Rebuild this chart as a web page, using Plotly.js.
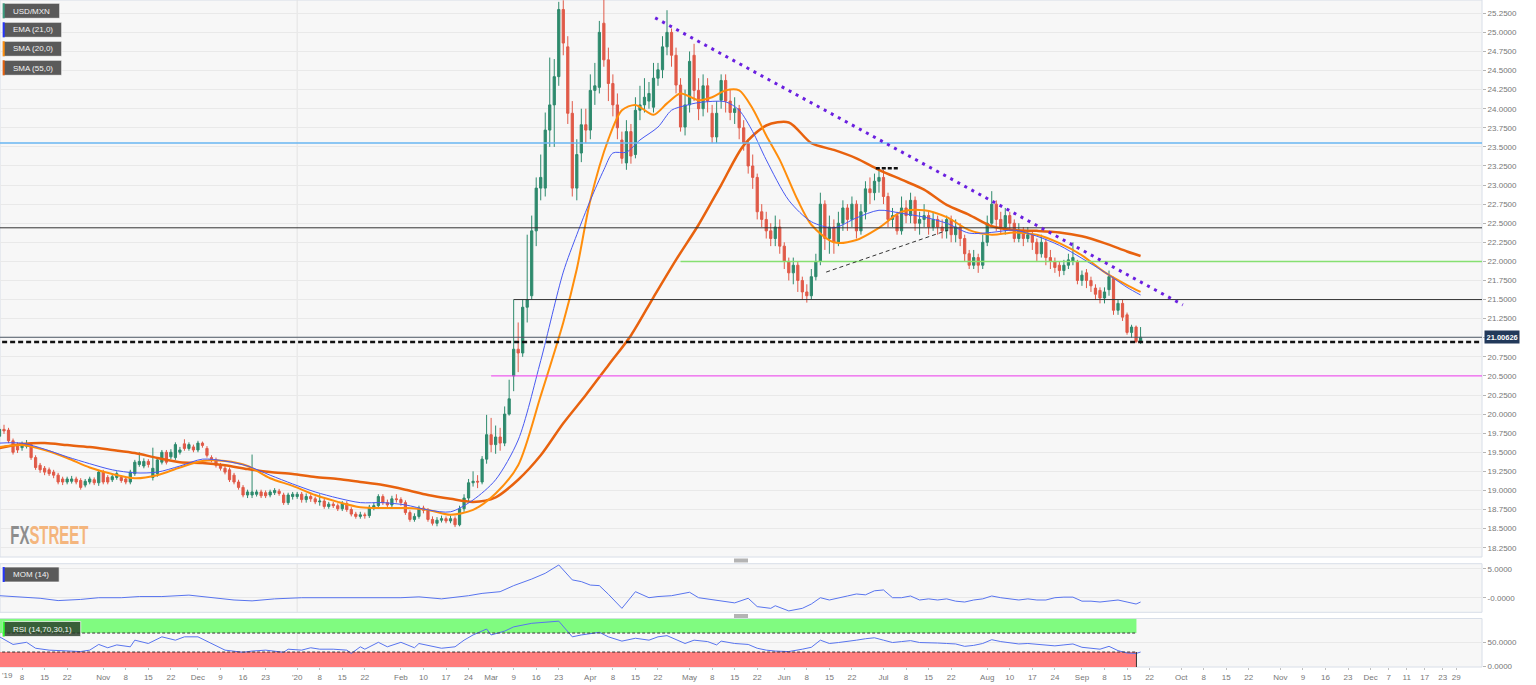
<!DOCTYPE html>
<html><head><meta charset="utf-8">
<script src="https://cdn.plot.ly/plotly-3.0.1.min.js"></script>
<style>html,body{margin:0;padding:0;background:#fff;}#chart{width:1536px;height:685px;}</style>
</head><body><div id="chart"></div>
<script>
// ---------- DATA ----------
const startDate = '2019-10-01';
const holidays = ['2020-11-26', '2020-12-25'];

const open = [
19.71,19.80,19.79,19.65,19.60,19.56,19.58,19.60,19.43,19.33,
19.29,19.27,19.24,19.20,19.15,19.11,19.12,19.15,19.13,19.07,
19.11,19.14,19.10,19.24,19.17,19.14,19.17,19.17,19.15,19.11,
19.22,19.34,19.32,19.38,19.17,19.22,19.37,19.50,19.44,19.43,
19.50,19.61,19.55,19.57,19.53,19.62,19.55,19.43,19.40,19.33,
19.29,19.27,19.20,19.11,19.04,18.94,18.94,18.95,18.98,18.97,
18.94,18.97,18.99,18.94,18.84,18.92,18.92,18.95,18.88,18.92,
18.89,18.85,18.86,18.79,18.82,18.80,18.76,18.83,18.75,18.69,
18.66,18.68,18.67,18.78,18.80,18.92,18.84,18.81,18.89,18.88,
18.84,18.71,18.62,18.66,18.77,18.74,18.62,18.57,18.61,18.63,
18.60,18.63,18.55,18.76,18.90,19.10,19.12,19.11,19.41,19.73,
19.60,19.70,19.62,20.00,20.50,20.85,20.80,21.40,21.55,22.40,
22.96,22.96,23.72,24.05,24.42,25.30,24.81,23.94,22.96,23.42,
23.79,23.72,24.24,24.28,25.12,24.64,24.33,24.05,23.59,23.29,
23.70,23.40,23.98,24.05,24.10,24.02,24.40,24.51,24.81,25.00,
24.70,24.31,23.76,24.05,24.70,24.24,24.00,24.30,23.94,23.63,
24.11,24.37,24.10,23.95,24.00,23.75,23.55,23.25,23.10,22.65,
22.55,22.40,22.30,22.45,22.20,22.00,21.85,21.95,21.75,21.60,
21.55,21.80,22.00,22.75,22.30,22.45,22.25,22.50,22.70,22.55,
22.75,22.40,22.65,22.95,22.90,23.05,23.10,22.85,22.55,22.60,
22.40,22.70,22.60,22.80,22.50,22.55,22.60,22.45,22.55,22.45,
22.40,22.55,22.35,22.45,22.30,22.10,21.95,22.05,21.95,22.25,
22.50,22.75,22.55,22.45,22.60,22.50,22.30,22.40,22.30,22.35,
22.25,22.10,22.25,22.05,22.00,21.95,21.88,21.95,22.00,22.00,
21.75,21.85,21.75,21.65,21.62,21.52,21.63,21.78,21.36,21.45,
21.30,21.07,21.14,20.95];

const high = [
19.84,19.86,19.82,19.68,19.63,19.64,19.66,19.63,19.46,19.36,
19.32,19.30,19.27,19.23,19.18,19.18,19.19,19.18,19.16,19.15,
19.18,19.17,19.27,19.27,19.20,19.21,19.25,19.20,19.18,19.27,
19.40,19.50,19.42,19.41,19.56,19.43,19.53,19.53,19.54,19.63,
19.57,19.67,19.63,19.60,19.65,19.64,19.58,19.46,19.43,19.36,
19.32,19.30,19.23,19.14,19.07,19.01,19.47,19.01,19.01,19.00,
19.01,19.03,19.02,18.97,18.97,18.98,18.98,18.98,18.96,18.95,
18.92,18.95,18.89,18.85,18.85,18.83,18.86,18.86,18.78,18.72,
18.72,18.71,18.81,18.84,18.95,18.95,18.88,18.93,18.95,18.91,
18.87,18.74,18.70,18.80,18.80,18.77,18.66,18.65,18.67,18.66,
18.67,18.66,18.80,18.95,19.15,19.25,19.20,19.45,19.99,19.95,
19.85,19.82,20.10,20.45,21.50,21.20,21.50,22.35,22.60,23.10,
23.40,23.95,24.67,24.65,25.40,25.42,24.95,24.10,23.60,24.00,
24.00,24.45,24.60,25.15,25.45,24.80,24.45,24.20,23.70,23.85,
23.80,24.15,24.30,24.40,24.35,24.60,24.60,24.95,25.29,25.05,
24.80,24.40,24.25,24.75,24.85,24.40,24.45,24.40,24.05,24.10,
24.45,24.45,24.25,24.15,24.05,23.85,23.60,23.40,23.15,22.75,
22.65,22.50,22.60,22.55,22.25,22.05,22.05,22.00,21.80,21.70,
21.90,22.10,22.90,22.80,22.60,22.55,22.65,22.80,22.75,22.85,
22.80,22.75,23.05,23.10,23.15,23.22,23.20,22.90,22.70,22.65,
22.85,22.80,22.90,22.85,22.65,22.75,22.65,22.65,22.60,22.55,
22.60,22.60,22.55,22.50,22.35,22.15,22.15,22.10,22.35,22.60,
22.92,22.80,22.65,22.70,22.65,22.55,22.50,22.45,22.45,22.40,
22.30,22.35,22.30,22.15,22.05,22.00,22.02,22.10,22.25,22.02,
21.88,21.90,21.80,21.70,21.66,21.66,21.88,21.80,21.50,21.50,
21.33,21.17,21.16,21.14];

const low = [
19.68,19.74,19.62,19.47,19.49,19.52,19.55,19.40,19.27,19.23,
19.20,19.19,19.16,19.08,19.07,19.08,19.09,19.08,19.01,19.04,
19.08,19.07,19.06,19.08,19.08,19.11,19.14,19.10,19.08,19.08,
19.19,19.31,19.29,19.30,19.13,19.18,19.34,19.34,19.41,19.40,
19.47,19.52,19.52,19.50,19.50,19.56,19.43,19.37,19.30,19.26,
19.21,19.11,19.08,19.01,18.91,18.90,18.90,18.92,18.90,18.90,
18.91,18.94,18.93,18.81,18.81,18.88,18.89,18.84,18.84,18.85,
18.82,18.80,18.76,18.76,18.77,18.73,18.73,18.72,18.66,18.63,
18.63,18.63,18.64,18.74,18.77,18.81,18.78,18.77,18.84,18.80,
18.68,18.59,18.59,18.63,18.70,18.59,18.54,18.53,18.58,18.57,
18.57,18.52,18.53,18.72,18.86,19.05,19.03,19.08,19.35,19.50,
19.48,19.52,19.58,19.98,20.30,20.55,20.75,21.20,21.50,22.20,
22.80,22.85,23.50,23.50,24.30,24.70,23.80,22.85,22.80,23.30,
23.55,23.60,24.05,24.20,24.55,24.10,23.90,23.60,23.28,23.20,
23.28,23.35,23.85,23.95,24.00,23.95,24.30,24.40,24.70,24.55,
24.20,23.70,23.65,23.95,24.10,23.85,23.90,23.95,23.55,23.55,
24.00,23.95,23.85,23.80,23.60,23.45,23.15,22.95,22.55,22.45,
22.30,22.20,22.20,22.10,21.90,21.75,21.70,21.60,21.50,21.46,
21.50,21.75,21.95,22.15,22.10,22.10,22.20,22.40,22.40,22.45,
22.30,22.35,22.55,22.75,22.80,22.90,22.75,22.45,22.45,22.35,
22.35,22.50,22.50,22.40,22.35,22.45,22.35,22.40,22.35,22.30,
22.30,22.25,22.25,22.20,22.00,21.90,21.90,21.85,21.90,22.20,
22.45,22.40,22.35,22.35,22.40,22.25,22.25,22.20,22.25,22.15,
22.00,22.05,21.95,21.90,21.85,21.80,21.82,21.90,21.95,21.70,
21.68,21.65,21.60,21.50,21.45,21.45,21.55,21.30,21.30,21.22,
21.04,21.00,20.93,20.92];

const close = [
19.80,19.78,19.65,19.50,19.53,19.60,19.61,19.43,19.30,19.27,
19.24,19.22,19.20,19.11,19.11,19.15,19.15,19.11,19.04,19.12,
19.15,19.10,19.24,19.11,19.11,19.18,19.22,19.13,19.11,19.24,
19.37,19.38,19.38,19.34,19.29,19.40,19.50,19.37,19.50,19.60,
19.53,19.55,19.60,19.53,19.62,19.59,19.46,19.40,19.33,19.29,
19.24,19.14,19.11,19.04,18.94,18.98,18.98,18.98,18.93,18.93,
18.98,19.00,18.96,18.84,18.94,18.95,18.95,18.88,18.92,18.89,
18.85,18.86,18.79,18.82,18.80,18.76,18.83,18.75,18.69,18.66,
18.68,18.67,18.78,18.80,18.92,18.84,18.81,18.89,18.88,18.84,
18.71,18.62,18.66,18.77,18.74,18.62,18.57,18.61,18.63,18.60,
18.63,18.55,18.76,18.90,19.10,19.12,19.11,19.41,19.73,19.60,
19.70,19.62,20.00,20.20,20.85,20.80,21.40,21.50,22.40,22.96,
23.10,23.72,24.05,24.42,25.30,24.86,23.94,22.96,23.40,23.79,
23.72,24.24,24.30,25.00,24.64,24.33,24.05,23.75,23.35,23.70,
23.38,23.98,24.05,24.15,24.20,24.40,24.51,24.81,25.00,24.70,
24.31,23.76,24.05,24.62,24.24,24.00,24.30,24.10,23.63,23.94,
24.37,24.10,23.95,24.00,23.75,23.55,23.25,23.10,22.65,22.55,
22.40,22.30,22.45,22.20,22.00,21.85,21.95,21.75,21.60,21.55,
21.80,22.00,22.75,22.30,22.45,22.25,22.50,22.70,22.55,22.75,
22.40,22.65,22.95,22.90,23.05,23.10,22.85,22.55,22.60,22.40,
22.70,22.60,22.80,22.50,22.55,22.60,22.45,22.55,22.45,22.40,
22.55,22.35,22.45,22.30,22.10,21.95,22.05,21.95,22.25,22.50,
22.75,22.55,22.45,22.60,22.50,22.30,22.40,22.30,22.35,22.25,
22.10,22.25,22.05,22.00,21.92,21.88,21.95,22.02,22.05,21.75,
21.82,21.75,21.68,21.57,21.52,21.60,21.80,21.36,21.45,21.27,
21.07,21.14,20.95,21.006];

// Indicator lines (trading-day number, value)
const ema21Day = [0,5,10,15,20,25,30,35,40,45,50,55,60,65,70,75,80,85,90,95,100,105,110,115,120,125,128,131,134,136,139,142,146,149,152,155,161,164,167,170,175,180,185,190,195,200,205,210,215,220,225,230,235,240,245,250,253];
const ema21Val = [19.62,19.62,19.54,19.44,19.35,19.27,19.23,19.24,19.32,19.41,19.385,19.32,19.20,19.085,18.98,18.90,18.84,18.84,18.81,18.745,18.72,18.875,19.14,19.66,20.70,21.86,22.35,22.80,23.20,23.42,23.43,23.59,23.76,23.98,24.04,24.08,24.09,23.98,23.70,23.33,22.80,22.52,22.44,22.57,22.67,22.63,22.58,22.50,22.37,22.38,22.41,22.33,22.21,22.04,21.86,21.66,21.56];

const sma20Day = [0,5,10,15,20,25,30,35,40,45,50,55,60,65,70,75,80,85,90,95,100,105,110,115,120,125,128,131,135,138,141,145,148,151,155,158,161,164,167,170,173,177,180,185,190,195,200,205,210,215,220,225,230,235,240,245,250,253];
const sma20Val = [19.568,19.594,19.53,19.425,19.30,19.215,19.16,19.20,19.30,19.385,19.385,19.32,19.16,19.06,18.94,18.85,18.78,18.77,18.77,18.745,18.68,18.745,18.96,19.33,20.24,21.20,21.90,22.80,23.60,23.98,24.05,23.92,24.07,24.20,24.11,24.15,24.24,24.24,24.00,23.65,23.33,22.80,22.48,22.25,22.28,22.44,22.65,22.67,22.58,22.41,22.35,22.38,22.35,22.24,22.08,21.86,21.69,21.60];

const sma55Day = [0,5,10,15,20,25,30,35,40,45,50,55,60,65,70,75,80,85,90,95,100,105,110,115,120,125,130,135,140,145,150,155,160,165,170,175,180,185,190,195,200,205,210,215,220,225,230,235,240,245,250,253];
const sma55Val = [19.555,19.607,19.62,19.594,19.568,19.53,19.49,19.425,19.37,19.36,19.33,19.28,19.24,19.215,19.175,19.15,19.11,19.07,19.01,18.94,18.89,18.85,18.91,19.14,19.46,19.88,20.25,20.64,21.03,21.53,22.02,22.48,23.00,23.52,23.78,23.82,23.55,23.46,23.35,23.20,23.07,22.94,22.74,22.61,22.46,22.41,22.40,22.38,22.33,22.24,22.13,22.07];

const momDay = [0,4,9,13,18,22,27,31,36,42,47,52,56,61,67,71,76,80,84,89,93,98,104,107,111,114,118,121,124,127,129,131,133,135,138,141,144,146,149,153,155,159,163,166,168,171,172,175,178,180,182,184,186,188,190,192,194,196,198,200,202,204,206,208,210,212,214,216,218,220,222,224,226,228,230,232,234,236,238,240,242,244,246,248,250,252,253];
const momVal = [0.35,0.17,-0.1,-0.5,-0.3,0,0,0.2,0.2,0.45,0,-0.4,-0.55,-0.2,0,0,-0.1,-0.1,0,0,0.15,-0.2,0.35,0.75,1.05,2.1,3.25,4.25,5.7,3.1,2.8,2.2,2.1,0.6,-1.85,1.05,0,0.2,0.35,0.95,0,-0.4,-0.9,-0.1,-1.55,-1.85,-1.4,-2.3,-1.85,-1.1,0,-0.4,0,0.3,0.65,0.5,1.2,1.35,0,0,0.3,-0.4,-0.2,-0.4,-0.2,-0.6,-0.75,-0.4,-0.2,0.3,0,-0.2,-0.4,-0.2,-0.4,-0.4,0,0.1,0.1,-0.6,-0.6,-0.75,-0.6,-0.4,-0.75,-1.1,-0.75];

const rsiDay = [0,2,3,6,8,11,15,18,20,22,24,26,29,30,33,34,36,39,41,44,47,50,54,56,59,63,64,67,69,71,74,77,78,80,81,84,86,89,92,93,98,101,103,105,108,109,112,114,118,124,127,129,133,135,138,141,144,146,148,152,154,157,159,160,163,166,168,170,172,175,178,180,182,184,186,188,190,192,194,196,198,200,202,204,206,208,210,212,214,216,218,220,222,224,226,228,230,232,234,236,238,240,242,244,246,248,250,252,253];
const rsiVal = [62,50.5,46,50.5,38,34,32,31,34,46,39,45,41,55,48,53,62,55,62,62,48,34,29.5,32,34,29.5,36,34,39,36,36,34,27,41,36,50.5,41,50.5,39,48,38,41,55,66,78.5,66,74,83,90.5,95,62,66,71.5,62,53,59,55,62,64.5,48,55,52,45,53,48,46,38,34,32,31,36,40,55,48,50,52,55,58,60,55,50,52,54,50,50,49,48,47,42,44,48,56,52,50,47,48,46,44,43,45,47,40,38,36,42,33,28,27,30];

const priceTicks = [18.25,18.5,18.75,19,19.25,19.5,19.75,20,20.25,20.5,20.75,21,21.25,21.5,21.75,22,22.25,22.5,22.75,23,23.25,23.5,23.75,24,24.25,24.5,24.75,25,25.25];
const tickDates = ['2019-10-08','2019-10-15','2019-10-22','2019-11-01','2019-11-08','2019-11-15','2019-11-22','2019-12-02','2019-12-09','2019-12-16','2019-12-23','2020-01-01','2020-01-08','2020-01-15','2020-01-22','2020-02-03','2020-02-10','2020-02-17','2020-02-24','2020-03-02','2020-03-09','2020-03-16','2020-03-23','2020-04-01','2020-04-08','2020-04-15','2020-04-22','2020-05-01','2020-05-08','2020-05-15','2020-05-22','2020-06-01','2020-06-08','2020-06-15','2020-06-22','2020-07-01','2020-07-08','2020-07-15','2020-07-22','2020-08-03','2020-08-10','2020-08-17','2020-08-24','2020-09-01','2020-09-08','2020-09-15','2020-09-22','2020-10-01','2020-10-08','2020-10-15','2020-10-22','2020-11-02','2020-11-09','2020-11-16','2020-11-23','2020-12-01','2020-12-07','2020-12-11','2020-12-17','2020-12-23','2020-12-29'];
const tickLabels = ['8','15','22','Nov','8','15','22','Dec','9','16','23',"'20",'8','15','22','Feb','10','17','24','Mar','9','16','23','Apr','8','15','22','May','8','15','22','Jun','8','15','22','Jul','8','15','22','Aug','10','17','24','Sep','8','15','22','Oct','8','15','22','Nov','9','16','23','Dec','7','11','17','23','29'];
const firstLabel = "'19";

// levels drawn on the chart
const levelBlue = 23.55, levelBlack = 22.44, levelGreen = 22.0, levelBlack2 = 21.5;
const levelDashed = 20.944, levelMagenta = 20.5, lastPrice = 21.00626;
const trendStart = ['2020-04-21 21:00', 25.19], trendEnd = ['2020-10-01 21:00', 21.43];
const supportStart = ['2020-06-12 19:00', 21.86], supportEnd = ['2020-07-21 19:00', 22.41];
const topStart = ['2020-06-29 19:00', 23.22], topEnd = ['2020-07-06 17:00', 23.22];

// ---------- BUILD ----------
function tradingDays(start, n) {
  const out = []; const d = new Date(start + 'T00:00:00Z');
  while (out.length < n) {
    const wd = d.getUTCDay();
    if (wd !== 0 && wd !== 6) out.push(d.toISOString().slice(0, 10) + ' 12:00');
    d.setUTCDate(d.getUTCDate() + 1);
  }
  return out;
}
const dates = tradingDays(startDate, close.length);
const atDay = idx => idx.map(k => dates[k]);
const PW = 1482, PH = 667;
const fx = px => px / PW;
const fy = py => 1 - py / PH;

const GREEN = '#2e8a6d', RED = '#e05a48';
const traces = [
  {type:'candlestick', x:dates, open:open, high:high, low:low, close:close, xaxis:'x', yaxis:'y',
   increasing:{line:{color:GREEN, width:1}, fillcolor:GREEN},
   decreasing:{line:{color:RED, width:1}, fillcolor:RED},
   whiskerwidth:0, hoverinfo:'skip'},
  {type:'scatter', mode:'lines', x:atDay(sma55Day), y:sma55Val, yaxis:'y', line:{color:'#e8620e', width:2.5, shape:'spline', smoothing:0.8}, hoverinfo:'skip'},
  {type:'scatter', mode:'lines', x:atDay(sma20Day), y:sma20Val, yaxis:'y', line:{color:'#ff8e0c', width:2, shape:'spline', smoothing:0.8}, hoverinfo:'skip'},
  {type:'scatter', mode:'lines', x:atDay(ema21Day), y:ema21Val, yaxis:'y', line:{color:'#4759f2', width:1, shape:'spline', smoothing:0.8}, hoverinfo:'skip'},
  {type:'scatter', mode:'lines', x:atDay(momDay), y:momVal, yaxis:'y2', line:{color:'#5874ee', width:1}, hoverinfo:'skip'},
  {type:'scatter', mode:'lines', x:atDay(rsiDay), y:rsiVal, yaxis:'y3', line:{color:'#5874ee', width:1}, hoverinfo:'skip'}
];

const FAR_L = '2019-08-01', FAR_R = '2021-03-01';
const shapes = [];
function hline(y, x0, color, width, dash) {
  shapes.push({type:'line', xref:'x', yref:'y', x0:x0, x1:FAR_R, y0:y, y1:y, line:{color:color, width:width, dash:dash || 'solid'}});
}
// panel frames
const BORDER = '#d8dee8';
[[0,557],[563.7,612.3],[618.5,667]].forEach(p => shapes.push({type:'rect', xref:'paper', yref:'paper', x0:0, x1:1, y0:fy(p[1]), y1:fy(p[0]), line:{color:BORDER, width:1}, layer:'below'}));
// year separator
['y domain','y2 domain','y3 domain'].forEach(r => shapes.push({type:'line', xref:'x', yref:r, x0:'2020-01-01 12:00', x1:'2020-01-01 12:00', y0:0, y1:1, line:{color:'#e3e3e3', width:1}, layer:'below'}));
// RSI bands
const bandEnd = '2020-09-17 14:00';
shapes.push({type:'rect', xref:'x', yref:'y3', x0:FAR_L, x1:bandEnd, y0:70, y1:100, fillcolor:'#80fb80', line:{width:0}, layer:'below'});
shapes.push({type:'rect', xref:'x', yref:'y3', x0:FAR_L, x1:bandEnd, y0:-2, y1:30, fillcolor:'#ff7d7d', line:{width:0}, layer:'below'});
[70,30].forEach(v => shapes.push({type:'line', xref:'x', yref:'y3', x0:FAR_L, x1:bandEnd, y0:v, y1:v, line:{color:'#333', width:1, dash:'3px,2px'}}));
shapes.push({type:'line', xref:'x', yref:'y3', x0:bandEnd, x1:bandEnd, y0:-2, y1:30, line:{color:'#333', width:1}});
// levels
hline(levelBlue, FAR_L, '#69b6f2', 1.5);
hline(levelBlack, FAR_L, '#333333', 1);
hline(levelGreen, '2020-04-29 12:00', '#86e071', 1.5);
hline(levelBlack2, '2020-03-09 12:00', '#333333', 1);
hline(lastPrice, FAR_L, '#4d5866', 1);
hline(levelDashed, FAR_L, '#111111', 2.5, '5px,3px');
hline(levelMagenta, '2020-03-02 12:00', '#f23cf2', 1);
shapes.push({type:'line', xref:'x', yref:'y', x0:trendStart[0], y0:trendStart[1], x1:trendEnd[0], y1:trendEnd[1], line:{color:'#6a1fe0', width:3, dash:'3px,5px'}});
shapes.push({type:'line', xref:'x', yref:'y', x0:supportStart[0], y0:supportStart[1], x1:supportEnd[0], y1:supportEnd[1], line:{color:'#333', width:1, dash:'4px,3px'}});
shapes.push({type:'line', xref:'x', yref:'y', x0:topStart[0], y0:topStart[1], x1:topEnd[0], y1:topEnd[1], line:{color:'#111', width:2.5, dash:'4px,2px'}});
// scroll handles
[[558.5,562.5],[614,618]].forEach(h => shapes.push({type:'rect', xref:'paper', yref:'paper', x0:fx(734), x1:fx(748), y0:fy(h[1]), y1:fy(h[0]), fillcolor:'#b4b4b4', line:{width:0}}));

// legend boxes
const annotations = [];
const boxes = [
  {text:'USD/MXN', top:3.3, w:57, stripe:'#3a9c80', fill:'#5a5a5a'},
  {text:'EMA (21,0)', top:22.3, w:59, stripe:'#2436ff', fill:'#5a5a5a'},
  {text:'SMA (20,0)', top:41.3, w:59, stripe:'#ff8e0c', fill:'#5a5a5a'},
  {text:'SMA (55,0)', top:60.3, w:59, stripe:'#e8620e', fill:'#5a5a5a'},
  {text:'MOM (14)', top:567, w:56.5, stripe:'#2436ff', fill:'#5a5a5a'},
  {text:'RSI (14,70,30,1)', top:621.5, w:78, stripe:'#33ff33', fill:'rgba(40,60,40,0.82)'}
];
boxes.forEach(b => {
  shapes.push({type:'rect', xref:'paper', yref:'paper', x0:fx(2.7), x1:fx(2.7 + b.w), y0:fy(b.top + 15), y1:fy(b.top), fillcolor:b.fill, line:{color:'rgba(255,255,255,0.7)', width:1}});
  shapes.push({type:'rect', xref:'paper', yref:'paper', x0:fx(2.7), x1:fx(4.7), y0:fy(b.top + 15), y1:fy(b.top), fillcolor:b.stripe, line:{width:0}});
  annotations.push({xref:'paper', yref:'paper', x:fx(10.5), y:fy(b.top + 7.7), xanchor:'left', yanchor:'middle', showarrow:false, text:b.text, font:{family:'Liberation Sans, Arial, sans-serif', size:8, color:'#f2f2f2'}});
});
annotations.push({xref:'paper', yref:'y', x:1, xshift:2, y:lastPrice, xanchor:'left', yanchor:'middle', showarrow:false, text:'<b>21.00626</b>', bgcolor:'#22395a', borderpad:1.5, font:{family:'Liberation Sans, Arial, sans-serif', size:7.5, color:'#ffffff'}});
annotations.push({xref:'paper', yref:'paper', x:0, y:fy(675.5), xanchor:'left', yanchor:'middle', showarrow:false, text:firstLabel, font:{family:'Liberation Sans, Arial, sans-serif', size:8, color:'#777'}});
annotations.push({xref:'paper', yref:'paper', x:fx(49), y:fy(534.5), xanchor:'center', yanchor:'middle', showarrow:false,
  text:'<b><span style="color:#8d8d8d">FX</span><span style="color:#f4b57d">STREET</span></b>',
  font:{family:'Liberation Sans, Arial, sans-serif', size:25}});

const axFont = {family:'Liberation Sans, Arial, sans-serif', size:8, color:'#777'};
const yBase = {side:'right', showline:false, zeroline:false, ticks:'outside', ticklen:3, tickcolor:'#b5b5b5', gridcolor:'#e9e9e9', tickfont:axFont, fixedrange:true, tickmode:'array'};
const layout = {
  width:1536, height:685, margin:{l:0, r:54, t:0, b:18},
  paper_bgcolor:'#ffffff', plot_bgcolor:'#f7f7f7', showlegend:false,
  font:axFont,
  xaxis:{type:'date', range:['2019-10-01 14:38', '2021-01-06 04:48'],
    rangebreaks:[{bounds:['sat','mon']}, {values:holidays}],
    rangeslider:{visible:false}, anchor:'y3', tickmode:'array',
    tickvals:tickDates.map(d => d + ' 12:00'), ticktext:tickLabels,
    ticks:'outside', ticklen:2, tickcolor:'#c0c0c0', showgrid:false, zeroline:false, showline:false,
    tickfont:axFont, fixedrange:true},
  yaxis:Object.assign({}, yBase, {domain:[fy(557), 1], range:[18.128, 25.424], tickvals:priceTicks, ticktext:priceTicks.map(v => v.toFixed(4))}),
  yaxis2:Object.assign({}, yBase, {domain:[fy(612.3), fy(563.7)], range:[-2.54, 5.92], tickvals:[5, 0], ticktext:['5.0000', '-0.0000']}),
  yaxis3:Object.assign({}, yBase, {domain:[0, fy(618.5)], range:[-1.5, 100.6], tickvals:[50, 0], ticktext:['50.0000', '0.0000']}),
  shapes:shapes, annotations:annotations
};
Plotly.newPlot('chart', traces, layout, {displayModeBar:false, staticPlot:true}).then(gd => {
  // squeeze the watermark horizontally (condensed lettering, as in the original logo)
  gd.querySelectorAll('text.annotation-text').forEach(el => {
    if (el.textContent === 'FXSTREET') {
      const bb = el.getBBox();
      const cx = bb.x + bb.width / 2;
      const s = 78 / bb.width;
      const prev = el.getAttribute('transform') || '';
      el.setAttribute('transform', prev + ' translate(' + cx + ' 0) scale(' + s + ' 1) translate(' + (-cx) + ' 0)');
    }
  });
});
</script></body></html>
